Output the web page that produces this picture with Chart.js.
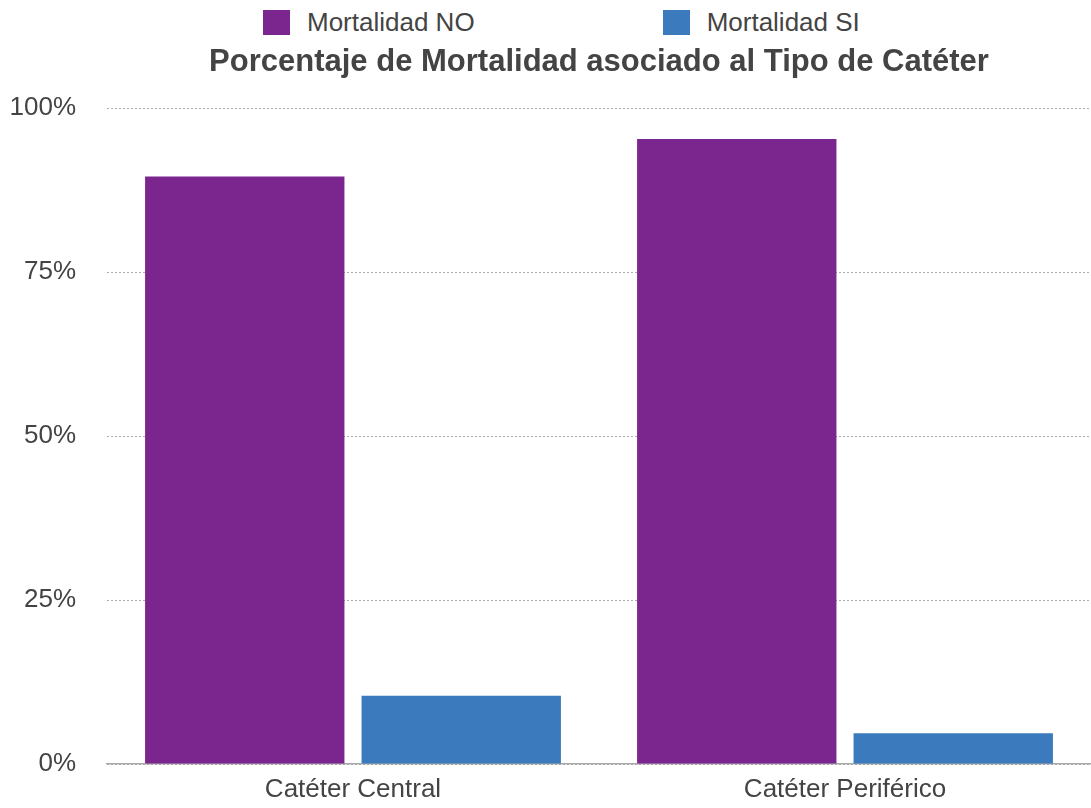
<!DOCTYPE html>
<html>
<head>
<meta charset="utf-8">
<script src="https://cdn.jsdelivr.net/npm/chart.js@4"></script>
<style>
  html, body { margin: 0; padding: 0; background: #fff; overflow: hidden; }
  body { width: 1091px; height: 808px; font-family: "Liberation Sans", Arial, Helvetica, sans-serif; }
  #legend { height: 44px; display: flex; align-items: center; padding-left: 263px; gap: 188px; }
  .item { display: flex; align-items: center; color: #444; font-size: 26px; }
  .box { width: 27px; height: 25px; margin-right: 17px; }
  #wrap { position: relative; width: 1091px; height: 764px; }
</style>
</head>
<body>
<div id="legend"></div>
<div id="wrap"><canvas id="grafico"></canvas></div>
<script>
// datos del gráfico
const categorias = ['Catéter Central', 'Catéter Periférico'];
const mortalidadNo = [89.6, 95.3];
const mortalidadSi = [10.4, 4.7];
const series = ['Mortalidad NO', 'Mortalidad SI'];
const colores = ['#7B268F', '#3B7BBD'];

const fuente = '"Liberation Sans", Arial, sans-serif';
const ctx = document.getElementById('grafico').getContext('2d');

const data = {
  labels: categorias,
  datasets: [
    {
      label: series[0],
      data: mortalidadNo,
      backgroundColor: colores[0],
      barPercentage: 0.921,
      categoryPercentage: 0.88
    },
    {
      label: series[1],
      data: mortalidadSi,
      backgroundColor: colores[1],
      barPercentage: 0.921,
      categoryPercentage: 0.88
    }
  ]
};

const config = {
  type: 'bar',
  data: data,
  options: {
    responsive: true,
    maintainAspectRatio: false,
    animation: false,
    layout: { padding: { left: 10, right: 0, top: 0, bottom: 5 } },
    scales: {
      x: {
        grid: { display: false, drawTicks: false },
        border: { display: true, color: '#aaaaaa', width: 1.5 },
        ticks: { color: '#444', padding: 10, font: { size: 26, family: fuente } },
        afterFit: s => { s.height = 39; }
      },
      y: {
        min: 0,
        max: 100,
        // marcas de eje invisibles para separar las etiquetas
        grid: { color: '#aaaaaa', lineWidth: 1, drawTicks: true, tickLength: 31, tickColor: 'transparent' },
        border: { display: false, dash: [2, 2] },
        ticks: {
          stepSize: 25,
          padding: 0,
          color: '#444',
          font: { size: 26, family: fuente },
          callback: v => v + '%'
        },
        afterFit: s => { s.width = 97; }
      }
    },
    plugins: {
      legend: { display: false },
      tooltip: { enabled: false },
      title: {
        display: true,
        fullSize: false,
        text: 'Porcentaje de Mortalidad asociado al Tipo de Catéter',
        color: '#444',
        font: { size: 31, weight: 'bold', family: fuente },
        padding: { top: 0, bottom: 27 }
      }
    }
  }
};

const chart = new Chart(ctx, config);

// leyenda en HTML con los colores de cada serie
const leyenda = document.getElementById('legend');
chart.data.datasets.forEach(ds => {
  const item = document.createElement('div');
  item.className = 'item';
  const caja = document.createElement('span');
  caja.className = 'box';
  caja.style.background = ds.backgroundColor;
  const texto = document.createElement('span');
  texto.textContent = ds.label;
  item.appendChild(caja);
  item.appendChild(texto);
  leyenda.appendChild(item);
});
</script>
</body>
</html>
